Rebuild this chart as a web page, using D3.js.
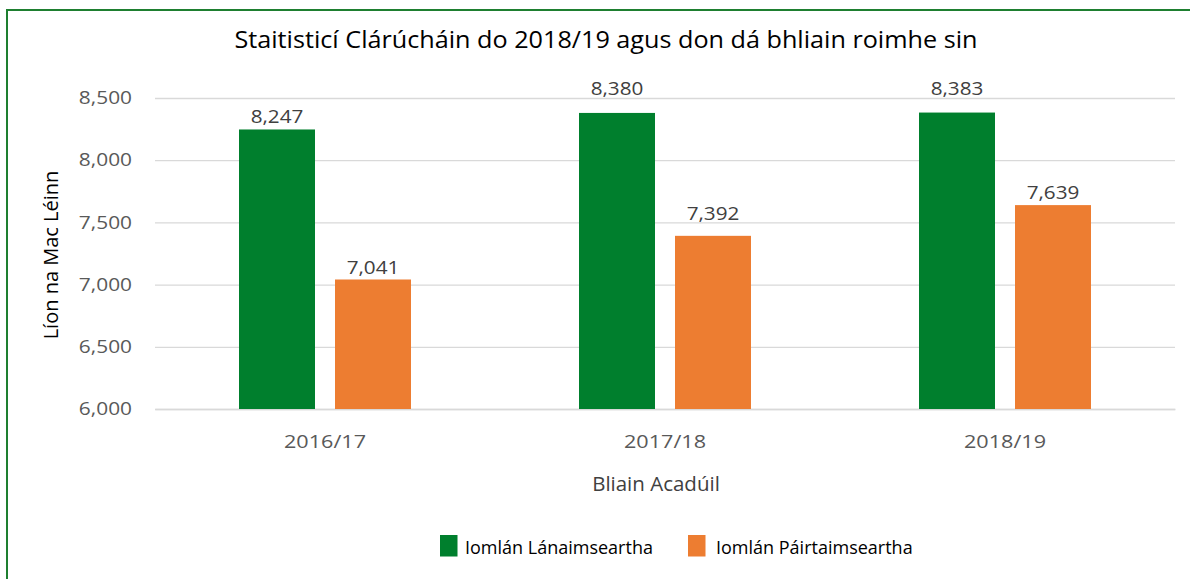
<!DOCTYPE html>
<html><head><meta charset="utf-8">
<script src="https://cdn.jsdelivr.net/npm/d3@7"></script>
<style>body{margin:0;background:#fff}svg{display:block}text{font-family:"Open Sans","Noto Sans",sans-serif}</style>
</head><body><svg id="c" width="1190" height="579"></svg>
<script>
(function(){
const categories = ["2016/17", "2017/18", "2018/19"];
const seriesNames = ["Iomlán Lánaimseartha", "Iomlán Páirtaimseartha"];
const fullTime = [8247, 8380, 8383];
const partTime = [7041, 7392, 7639];
const yTicks = [6000, 6500, 7000, 7500, 8000, 8500];
const colors = ["#007F2D", "#ED7D31"];

function stretch(sel, sx) {
  sel.each(function() {
    const t = d3.select(this);
    const x0 = +(t.attr("x") || 0);
    t.attr("x", x0 / sx).attr("transform", `scale(${sx},1)`);
  });
}

const svg = d3.select("#c");
svg.append("rect").attr("x", 7).attr("y", 10).attr("width", 1200).attr("height", 600)
  .attr("fill", "none").attr("stroke", "#1E7F30").attr("stroke-width", 2);

const pL = 155, pR = 1175, pT = 98, pB = 409;
const x = d3.scaleBand().domain(categories).range([pL, pR]);
const y = d3.scaleLinear().domain([6000, 8500]).range([pB, pT]);
const barW = 76, gap = 20;
// gap (px) between bar top and its label, as placed in the original
const labelGap = [[6.5, 17.5, 17.5], [5, 16, 6]];

const g = svg.append("g");
const yAxis = d3.axisLeft(y).tickValues(yTicks).tickSize(-(pR - pL)).tickPadding(23).tickFormat(d3.format(","));
const ya = g.append("g").attr("transform", `translate(${pL},0)`).call(yAxis);
ya.select(".domain").remove();
ya.selectAll(".tick line").attr("stroke", "#D9D9D9").attr("stroke-width", 1.3);
ya.selectAll(".tick text").attr("fill", "#595959").style("font-size", "18px").style("font-family", "'Open Sans'");
stretch(ya.selectAll(".tick text"), 1.16);

const xAxis = d3.axisBottom(x).tickSize(0).tickPadding(26);
const xa = g.append("g").attr("transform", `translate(0,${pB})`).call(xAxis);
xa.select(".domain").attr("stroke", "#D9D9D9").attr("stroke-width", 1.3);
xa.selectAll(".tick text").attr("fill", "#595959").style("font-size", "18px").style("font-family", "'Open Sans'");
stretch(xa.selectAll(".tick text"), 1.2);

const series = [fullTime, partTime];
series.forEach((vals, si) => {
  const off = si === 0 ? -(gap / 2 + barW) : gap / 2;
  g.selectAll(".b" + si).data(categories).enter().append("rect")
    .attr("x", d => x(d) + x.bandwidth() / 2 + off)
    .attr("y", (d, i) => y(vals[i]))
    .attr("width", barW)
    .attr("height", (d, i) => pB - y(vals[i]))
    .attr("fill", colors[si]);
  const lab = g.selectAll(".l" + si).data(categories).enter().append("text")
    .attr("x", d => x(d) + x.bandwidth() / 2 + off + barW / 2)
    .attr("y", (d, i) => y(vals[i]) - labelGap[si][i])
    .attr("text-anchor", "middle").attr("fill", "#404040").style("font-size", "18px")
    .text((d, i) => d3.format(",")(vals[i]));
  stretch(lab, 1.15);
});

const title = svg.append("text").attr("x", 606).attr("y", 48).attr("text-anchor", "middle")
  .attr("fill", "#000").style("font-size", "24px")
  .text("Staitisticí Clárúcháin do 2018/19 agus don dá bhliain roimhe sin");
stretch(title, 1.05);
svg.append("text").attr("transform", "translate(58,255) rotate(-90)").attr("text-anchor", "middle")
  .attr("fill", "#000").style("font-size", "20px").text("Líon na Mac Léinn");
svg.append("text").attr("x", 656).attr("y", 491).attr("text-anchor", "middle")
  .attr("fill", "#404040").style("font-size", "20.5px").text("Bliain Acadúil");

const legX = [440, 688];
const legTX = [465, 716];
seriesNames.forEach((n, i) => {
  svg.append("rect").attr("x", legX[i]).attr("y", 535).attr("width", 17.5).attr("height", 21.5).attr("fill", colors[i]);
  svg.append("text").attr("x", legTX[i]).attr("y", 554).attr("fill", "#000").style("font-size", "18px").text(n);
});
})();
</script></body></html>
